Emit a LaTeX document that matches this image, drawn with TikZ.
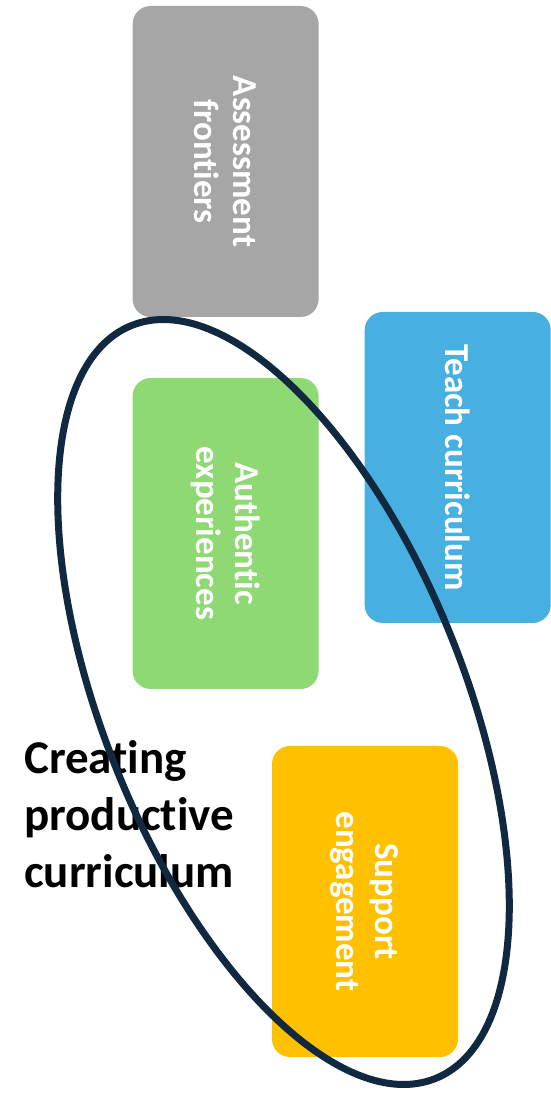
\documentclass[tikz,border=0pt]{standalone}
\usepackage{fontspec}
\setmainfont{Carlito}[Ligatures={NoCommon,NoContextual}, RawFeature={-liga;-clig}]
\definecolor{boxgray}{RGB}{166,166,166}
\definecolor{boxblue}{RGB}{71,176,224}
\definecolor{boxgreen}{RGB}{143,217,116}
\definecolor{boxyellow}{RGB}{255,192,0}
\definecolor{ringnavy}{RGB}{16,40,64}
\begin{document}
\begin{tikzpicture}[x=1pt,y=1pt,
  card/.style={rounded corners=18pt, rotate=-90, minimum width=311pt, minimum height=186pt,
    inner sep=0pt, align=center, text=white, font=\fontsize{35}{39}\selectfont\bfseries},
  ring/.style={draw=ringnavy, line width=7pt},
  title/.style={anchor=base west, inner sep=0pt, align=left, text=black,
    font=\fontsize{47}{57}\selectfont\bfseries}]
\useasboundingbox (0,0) rectangle (551,1093);
\node[card, fill=boxgray]   (assess) at (225.6,931.5) {Assessment\\frontiers};
\node[card, fill=boxblue]   (teach)  at (457.7,625.5) {Teach curriculum};
\node[card, fill=boxgreen]  (auth)   at (225.6,559.5) {Authentic\\experiences};
\node[card, fill=boxyellow] (supp)   at (365,191.5)   {Support\\engagement};
\node[title] (creat) at (24,205) {Creating\\productive\\curriculum};
\coordinate (c) at (283.5,391);
\draw[ring, rotate around={22:(c)}] (c) ellipse [x radius=180, y radius=406];
\end{tikzpicture}
\end{document}
